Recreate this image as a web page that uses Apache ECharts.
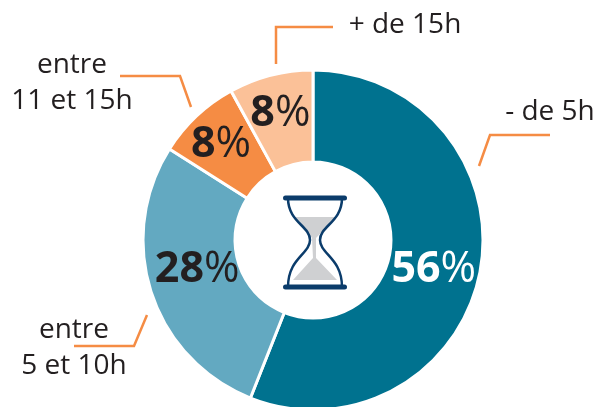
<!DOCTYPE html>
<html>
<head>
<meta charset="utf-8">
<style>
    html, body { margin: 0; padding: 0; background: #fff; }
    #chart { width: 606px; height: 407px; }
</style>
<script src="https://cdn.jsdelivr.net/npm/echarts@6/dist/echarts.min.js"></script>
</head>
<body>
<div id="chart"></div>
<script>
// 4 tranches horaires, sens horaire depuis midi
var categories = ['- de 5h', 'entre\n5 et 10h', 'entre\n11 et 15h', '+ de 15h'];
var values = [56, 28, 8, 8];
var colors = ['#00728F', '#63A9C1', '#F58C44', '#FBC198'];
var valueColors = ['#fff', '#231F20', '#231F20', '#231F20'];

var FONT = '"Open Sans", "Noto Sans", sans-serif';
var LINE_COLOR = '#F58C44';
var TEXT_COLOR = '#231F20';
var GLASS_COLOR = '#0B3C6B';

// decalage des pourcentages / position des libelles externes
var valueShift = [[-4, 6], [5, -9], [-5, -3], [-1, -3]];
var labelPos = [[550, 112], [74, 348], [72, 83], [405, 25]];
// traits de rappel
var leaders = [
    [[550, 135], [490, 135], [479, 166]],
    [[74, 346], [134, 346], [147, 315]],
    [[120, 76], [180, 76], [191, 107]],
    [[276, 64], [276, 27], [333, 27]]
];

var pieData = categories.map(function (name, i) {
    return {
        name: name,
        value: values[i],
        itemStyle: { color: colors[i] },
        label: {
            rich: {
                num: { fontFamily: FONT, fontSize: 43, fontWeight: 700, color: valueColors[i] },
                pct: { fontFamily: FONT, fontSize: 43, fontWeight: 400, color: valueColors[i] }
            }
        }
    };
});

var chart = echarts.init(document.getElementById('chart'), null, { renderer: 'canvas' });

var graphics = leaders.map(function (pts) {
    return {
        type: 'polyline',
        shape: { points: pts },
        style: { stroke: LINE_COLOR, lineWidth: 2.5, fill: null }
    };
});

function glassCurve(x1, y1, cx1, cy1, cx2, cy2, x2, y2) {
    return {
        type: 'bezierCurve',
        shape: { x1: x1, y1: y1, cpx1: cx1, cpy1: cy1, cpx2: cx2, cpy2: cy2, x2: x2, y2: y2 },
        style: { stroke: GLASS_COLOR, lineWidth: 2.5, fill: null }
    };
}

// sablier
graphics.push(
    {
        type: 'polygon',
        shape: {
            points: [[295, 217], [336, 217], [316, 238], [316, 258], [337, 280], [293, 280], [313, 258], [312, 238]]
        },
        style: { fill: '#CFD0D2' }
    },
    glassCurve(288, 198, 288, 222, 310, 226, 310, 240),
    glassCurve(310, 240, 310, 254, 288, 258, 288, 287),
    glassCurve(342, 198, 342, 222, 320, 226, 320, 240),
    glassCurve(320, 240, 320, 254, 342, 258, 342, 287),
    {
        type: 'rect',
        shape: { x: 283, y: 195.5, width: 64, height: 5, r: 2.5 },
        style: { fill: GLASS_COLOR }
    },
    {
        type: 'rect',
        shape: { x: 283, y: 284.5, width: 64, height: 5, r: 2.5 },
        style: { fill: GLASS_COLOR }
    }
);

var option = {
    backgroundColor: '#fff',
    animation: false,
    graphic: graphics,
    series: [
        {
            type: 'pie',
            center: [313, 240],
            radius: [78, 170],
            startAngle: 90,
            clockwise: true,
            silent: true,
            itemStyle: { borderColor: '#fff', borderWidth: 3 },
            label: {
                show: true,
                position: 'inside',
                formatter: function (p) {
                    return '{num|' + p.value + '}{pct|%}';
                }
            },
            labelLine: { show: false },
            labelLayout: function (p) {
                return { dx: valueShift[p.dataIndex][0], dy: valueShift[p.dataIndex][1] };
            },
            data: pieData
        },
        {
            // libelles externes
            type: 'pie',
            center: [313, 240],
            radius: [78, 170],
            startAngle: 90,
            silent: true,
            itemStyle: { color: 'transparent' },
            label: {
                show: true,
                position: 'outside',
                formatter: '{b}',
                fontFamily: FONT,
                fontSize: 28,
                lineHeight: 36,
                width: 170,
                overflow: 'none',
                align: 'center',
                color: TEXT_COLOR
            },
            labelLine: { show: false },
            labelLayout: function (p) {
                return {
                    x: labelPos[p.dataIndex][0],
                    y: labelPos[p.dataIndex][1],
                    align: 'center',
                    verticalAlign: 'middle'
                };
            },
            data: categories.map(function (name, i) {
                return { name: name, value: values[i] };
            })
        }
    ]
};

chart.setOption(option);
</script>
</body>
</html>
